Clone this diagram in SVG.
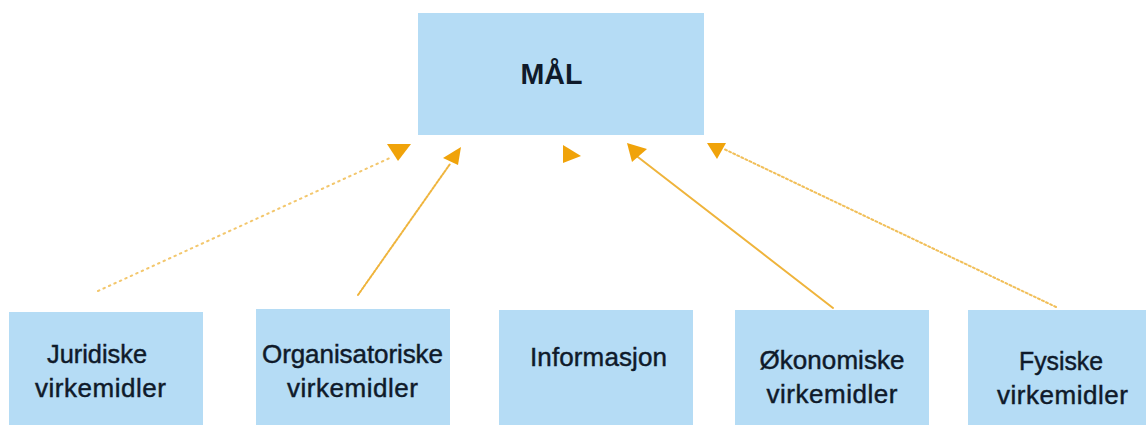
<svg xmlns="http://www.w3.org/2000/svg" width="1146" height="425" viewBox="0 0 1146 425">
<style>
.box{fill:#b5dcf5}
.lbl{font-family:"Liberation Sans",Arial,sans-serif;font-size:26px;fill:#0f1a2a;stroke:#0f1a2a;stroke-width:0.45;text-anchor:middle}
.ttl{font-family:"Liberation Sans",Arial,sans-serif;font-size:30px;font-weight:bold;fill:#0f1a2a;text-anchor:middle}
.ln{fill:none;stroke:#efb43c;stroke-width:2;stroke-linecap:round}
.hd{fill:#f0a30a}
</style>
<rect width="1146" height="425" fill="#ffffff"/>
<g id="mal">
<rect class="box" x="418" y="13" width="286" height="122"/>
<text class="ttl" x="551.5" y="84" textLength="62" lengthAdjust="spacingAndGlyphs">MÅL</text>
</g>
<g id="juridiske">
<rect class="box" x="9" y="312" width="194" height="113"/>
<text class="lbl" x="97" y="363" textLength="100" lengthAdjust="spacingAndGlyphs">Juridiske</text>
<text class="lbl" x="100.5" y="397" textLength="131" lengthAdjust="spacing">virkemidler</text>
</g>
<g id="organisatoriske">
<rect class="box" x="256" y="309" width="194" height="116"/>
<text class="lbl" x="352.5" y="363" textLength="181" lengthAdjust="spacing">Organisatoriske</text>
<text class="lbl" x="352.5" y="397" textLength="131" lengthAdjust="spacing">virkemidler</text>
</g>
<g id="informasjon">
<rect class="box" x="499" y="310" width="194" height="115"/>
<text class="lbl" x="598.5" y="366" textLength="137" lengthAdjust="spacing">Informasjon</text>
</g>
<g id="okonomiske">
<rect class="box" x="735" y="310" width="194" height="115"/>
<text class="lbl" x="832" y="369" textLength="145" lengthAdjust="spacing">Økonomiske</text>
<text class="lbl" x="832" y="403" textLength="131" lengthAdjust="spacing">virkemidler</text>
</g>
<g id="fysiske">
<rect class="box" x="968" y="310" width="178" height="115"/>
<text class="lbl" x="1061" y="370" textLength="84" lengthAdjust="spacingAndGlyphs">Fysiske</text>
<text class="lbl" x="1062.5" y="404" textLength="131" lengthAdjust="spacing">virkemidler</text>
</g>
<g id="connectors">
<path class="ln" d="M98,291 L392,157" stroke-dasharray="1.5 4.5" opacity="0.75"/>
<polygon class="hd" points="387,144 411,144 398,161"/>
<path class="ln" d="M358,295 L450,164" stroke-dasharray="2 1.5"/>
<polygon class="hd" points="461,147 443,158 458,165"/>
<polygon class="hd" points="563,145 581,156 563,163"/>
<path class="ln" d="M833,308 L634,154" stroke-width="2.2"/>
<polygon class="hd" points="627,143 647,149 632,162"/>
<path class="ln" d="M1056,307 L724,149" stroke-dasharray="2 2.5" opacity="0.85"/>
<polygon class="hd" points="707,143 726,143 717,159"/>
</g>
</svg>
